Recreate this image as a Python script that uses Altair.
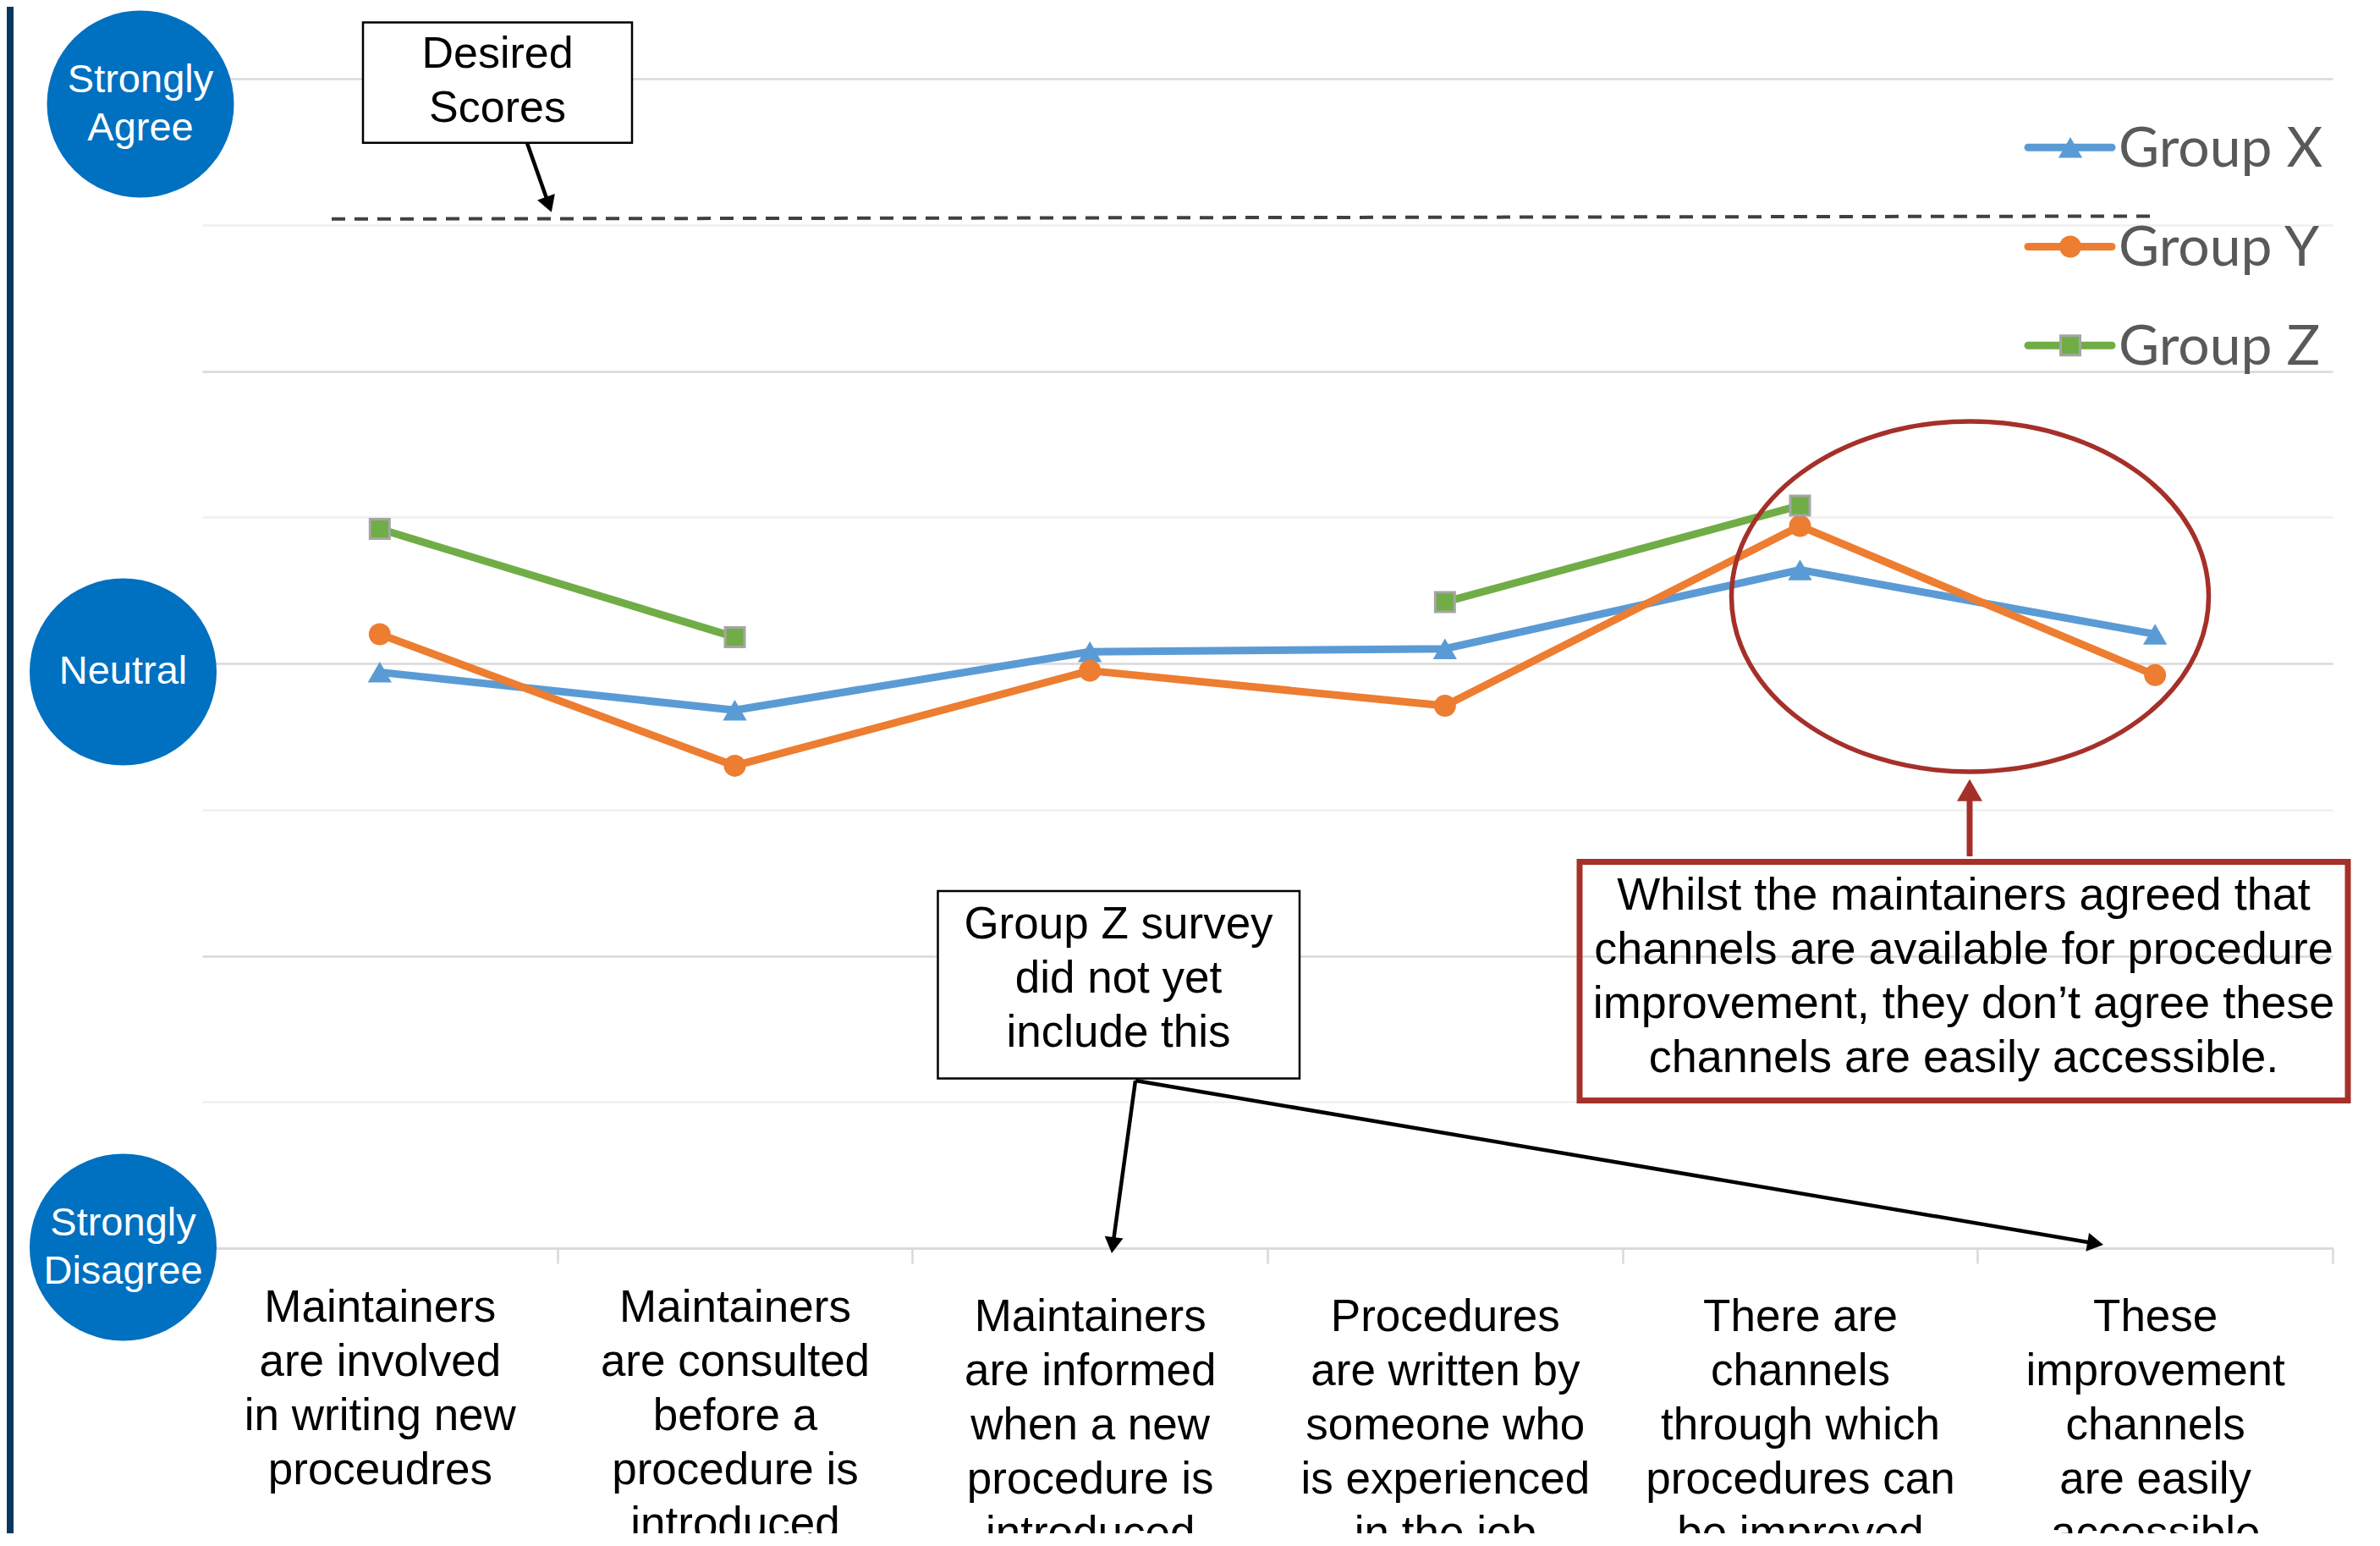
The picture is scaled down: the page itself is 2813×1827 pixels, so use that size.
import math
import json
import altair as alt
import pandas as pd

# ---------------- data ----------------
categories = [
    "Maintainers\nare involved\nin writing new\nproceudres",
    "Maintainers\nare consulted\nbefore a\nprocedure is\nintroduced",
    "Maintainers\nare informed\nwhen a new\nprocedure is\nintroduced",
    "Procedures\nare written by\nsomeone who\nis experienced\nin the job",
    "There are\nchannels\nthrough which\nprocedures can\nbe improved",
    "These\nimprovement\nchannels\nare easily\naccessible",
]
groups = ["Group X", "Group Y", "Group Z"]
group_x = [2.97, 2.84, 3.04, 3.05, 3.32, 3.10]
group_y = [3.10, 2.65, 2.975, 2.855, 3.47, 2.96]
group_z = [3.46, 3.09, None, 3.21, 3.54, None]
desired_scores = [4.52, 4.53]
scale_labels = ["Strongly\nAgree", "Neutral", "Strongly\nDisagree"]
note_desired = "Desired\nScores"
note_groupz = "Group Z survey\ndid not yet\ninclude this"
note_channels = ("Whilst the maintainers agreed that\nchannels are available for procedure\n"
                 "improvement, they don\u2019t agree these\nchannels are easily accessible.")

# ---------------- layout ----------------
W, H = 2518, 1382
PAD_L, PAD_T = 231, 85
PAD_R = 2797 - PAD_L - W
PAD_B = 1804 - PAD_T - H
X_DOM = [-0.5, 5.5]
Y_DOM = [1, 5]


def dx(px):
    return X_DOM[0] + (px - 8 - PAD_L) * (X_DOM[1] - X_DOM[0]) / W


def dy(py):
    return Y_DOM[1] - (py - 8 - PAD_T) * (Y_DOM[1] - Y_DOM[0]) / H


def first_line(center_px, text, lh):
    n = len(text.split("\n"))
    return dy(center_px - (n - 1) * lh / 2.0)


def arrow(x0, y0, x1, y1, head_w):
    vx, vy = x1 - x0, y1 - y0
    L = math.hypot(vx, vy)
    ux, uy = vx / L, vy / L
    h = head_w * math.sqrt(3) / 4.0
    cx, cy = x1 - h * ux, y1 - h * uy
    ang = math.degrees(math.atan2(ux, -uy)) % 360
    return dict(x=dx(x0), y=dy(y0), x2=dx(cx), y2=dy(cy), angle=ang)


FONT = "Liberation Sans, Arial, sans-serif"
colors = ["#5B9BD5", "#ED7D31", "#70AD47"]
marker_style = {
    "Group X": dict(shape="triangle-up", size=800, strokeWidth=0),
    "Group Y": dict(shape="circle", size=676, strokeWidth=0),
    "Group Z": dict(shape="square", size=529, stroke="#A5A5A5", strokeWidth=3),
}

x_scale = alt.Scale(domain=X_DOM, nice=False, zero=False)
y_scale = alt.Scale(domain=Y_DOM, nice=False, zero=False)
color_scale = alt.Scale(domain=groups, range=colors)

cat_js = json.dumps([c.split("\n") for c in categories])
x_axis = alt.Axis(
    values=[0.5 * k for k in range(0, 12)],
    title=None, grid=False,
    domain=True, domainColor="#D9D9D9", domainWidth=2.5,
    ticks=True, tickColor="#D9D9D9", tickWidth=2.5, tickSize=18,
    tickOpacity={"condition": {"test": "datum.value % 1 === 0", "value": 0}, "value": 1},
    labelExpr="datum.value % 1 === 0 ? " + cat_js + "[datum.value] : ''",
    labelFont=FONT, labelFontSize=53, labelLineHeight=64, labelColor="#000000",
    labelPadding={"condition": {"test": "datum.value < 1.5", "value": 26}, "value": 37},
    labelBaseline="top", labelAlign="center", labelOverlap=False, labelFlush=False,
    labelLimit=600,
)
y_axis = alt.Axis(
    values=[1 + 0.5 * k for k in range(9)],
    title=None, labels=False, ticks=False, domain=False, grid=True, gridWidth=2.5,
    gridColor={"condition": {"test": "datum.value % 1 === 0", "value": "#D9D9D9"}, "value": "#F0F0F0"},
)


def X(f="x"):
    return alt.X(f"{f}:Q", scale=x_scale, axis=x_axis)


def Y(f="y"):
    return alt.Y(f"{f}:Q", scale=y_scale, axis=y_axis)


# ---------------- frames ----------------
rows = []
for g, vals in zip(groups, [group_x, group_y, group_z]):
    seg = 0
    for i, v in enumerate(vals):
        if v is None:
            seg += 1
            continue
        rows.append(dict(group=g, x=i, y=v, seg=f"{g}-{seg}"))
df = pd.DataFrame(rows)

layers = []

# navy side bar
bar_df = pd.DataFrame([dict(x=dx(8), x2=dx(16), y=dy(8), y2=dy(1812))])
layers.append(alt.Chart(bar_df).mark_rect(color="#0A3762").encode(
    x=X(), x2="x2:Q", y=Y(), y2="y2:Q"))

# desired line
des_df = pd.DataFrame(dict(x=[dx(392), dx(2545)], y=desired_scores))
layers.append(alt.Chart(des_df).mark_line(color="#404040", strokeWidth=4, strokeDash=[16, 11]).encode(
    x=X(), y=Y()))

# data lines
layers.append(alt.Chart(df).mark_line(strokeWidth=9, strokeCap="round", strokeJoin="round").encode(
    x=X(), y=Y(), color=alt.Color("group:N", scale=color_scale, legend=None),
    detail="seg:N", order="x:Q"))

# markers
for g, c in zip(groups, colors):
    st = marker_style[g]
    layers.append(alt.Chart(df[df.group == g]).mark_point(filled=True, opacity=1, fill=c, **st).encode(
        x=X(), y=Y()))

# legend
leg_rows = [174.3, 291.5, 408.3]
leg_df = pd.DataFrame(dict(group=groups, x=[dx(2397)] * 3, x2=[dx(2496)] * 3,
                           mx=[dx(2447)] * 3, tx=[dx(2504)] * 3,
                           y=[dy(v) for v in leg_rows],
                           ty=[dy(v + 22.5) for v in leg_rows]))
layers.append(alt.Chart(leg_df).mark_rule(strokeWidth=9, strokeCap="round").encode(
    x=X(), x2="x2:Q", y=Y(), color=alt.Color("group:N", scale=color_scale, legend=None)))
for g, c in zip(groups, colors):
    st = marker_style[g]
    layers.append(alt.Chart(leg_df[leg_df.group == g]).mark_point(filled=True, opacity=1, fill=c, **st).encode(
        x=X("mx"), y=Y()))
layers.append(alt.Chart(leg_df).mark_text(font="Lato, Open Sans, sans-serif", fontSize=66, color="#595959",
                                          align="left", baseline="alphabetic").encode(
    x=X("tx"), y=Y("ty"), text="group:N"))

# Likert scale circles
lik_centers = [(166, 123), (145.5, 794), (145.5, 1474)]
lik_df = pd.DataFrame(dict(label=scale_labels,
                           x=[dx(cx) for cx, _ in lik_centers],
                           y=[dy(cy) for _, cy in lik_centers],
                           ty=[first_line(cy, t, 57) for (_, cy), t in zip(lik_centers, scale_labels)]))
layers.append(alt.Chart(lik_df).mark_point(shape="circle", size=221 ** 2, filled=True, fill="#0070C0",
                                           opacity=1, strokeWidth=0).encode(x=X(), y=Y()))
layers.append(alt.Chart(lik_df).mark_text(font=FONT, fontSize=47, lineHeight=57, color="white",
                                          lineBreak="\n", baseline="middle", align="center").encode(
    x=X(), y=Y("ty"), text="label:N"))

# red ellipse
e = 207 / 282
k = 0.5523
ell_path = (f"M 1 0 C 1 {k*e:.4f} {k} {e:.4f} 0 {e:.4f} C {-k} {e:.4f} -1 {k*e:.4f} -1 0 "
            f"C -1 {-k*e:.4f} {-k} {-e:.4f} 0 {-e:.4f} C {k} {-e:.4f} 1 {-k*e:.4f} 1 0 Z")
ell_df = pd.DataFrame([dict(x=dx(2328.5), y=dy(705))])
layers.append(alt.Chart(ell_df).mark_point(shape=ell_path, size=(2 * 282) ** 2, filled=False,
                                           stroke="#A5302A", strokeWidth=5.5, opacity=1).encode(
    x=X(), y=Y()))

# boxes
box_df = pd.DataFrame([
    dict(x=dx(429), x2=dx(747), y=dy(26.5), y2=dy(168.8)),
    dict(x=dx(1108.5), x2=dx(1536), y=dy(1053), y2=dy(1274.5)),
])
layers.append(alt.Chart(box_df).mark_rect(fill="white", stroke="#000000", strokeWidth=2.5).encode(
    x=X(), x2="x2:Q", y=Y(), y2="y2:Q"))
red_box = pd.DataFrame([dict(x=dx(1867), x2=dx(2775), y=dy(1018.5), y2=dy(1300.5))])
layers.append(alt.Chart(red_box).mark_rect(fill=None, fillOpacity=0, stroke="#A5302A", strokeWidth=7).encode(
    x=X(), x2="x2:Q", y=Y(), y2="y2:Q"))

# arrows
blk = pd.DataFrame([arrow(623, 169, 651.8, 250.7, 22),
                    arrow(1342, 1277, 1314, 1481, 22),
                    arrow(1342, 1277, 2486, 1471, 22)])
layers.append(alt.Chart(blk).mark_rule(color="#000000", strokeWidth=4.5).encode(
    x=X(), x2="x2:Q", y=Y(), y2="y2:Q"))
layers.append(alt.Chart(blk).mark_point(shape="triangle-up", size=22 ** 2, filled=True, fill="#000000",
                                        opacity=1, strokeWidth=0).encode(
    x=X("x2"), y=Y("y2"), angle=alt.Angle("angle:Q", scale=None)))
red = pd.DataFrame([arrow(2328, 1012, 2328, 920.7, 30)])
layers.append(alt.Chart(red).mark_rule(color="#A5302A", strokeWidth=7).encode(
    x=X(), x2="x2:Q", y=Y(), y2="y2:Q"))
layers.append(alt.Chart(red).mark_point(shape="triangle-up", size=30 ** 2, filled=True, fill="#A5302A",
                                        opacity=1, strokeWidth=0).encode(
    x=X("x2"), y=Y("y2"), angle=alt.Angle("angle:Q", scale=None)))

# note texts
note_specs = [(note_desired, 588, 96, 52), (note_groupz, 1322, 1157, 53), (note_channels, 2321, 1154.5, 54)]
for t, cx, cy, fs in note_specs:
    ndf = pd.DataFrame([dict(text=t, x=dx(cx), y=first_line(cy, t, 64))])
    layers.append(alt.Chart(ndf).mark_text(
        font=FONT, fontSize=fs, lineHeight=64, color="#000000", lineBreak="\n",
        baseline="middle", align="center").encode(x=X(), y=Y(), text="text:N"))

chart = alt.layer(*layers).properties(
    width=W, height=H,
    padding={"left": PAD_L, "top": PAD_T, "right": PAD_R, "bottom": PAD_B},
    autosize=alt.AutoSizeParams(type="none"),
    background="white",
).configure_view(stroke=None)

chart.save("out.html", embed_options={"renderer": "svg", "actions": False})
